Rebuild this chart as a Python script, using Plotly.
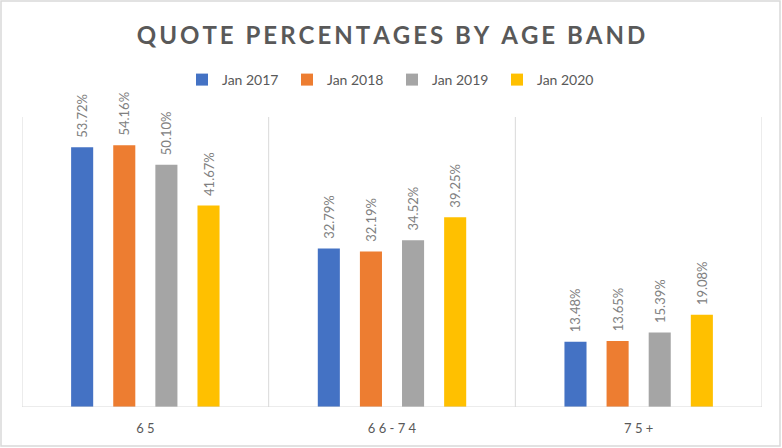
import plotly.graph_objects as go

categories = ["65", "66-74", "75+"]
series_names = ["Jan 2017", "Jan 2018", "Jan 2019", "Jan 2020"]
values = {
    "Jan 2017": [53.72, 32.79, 13.48],
    "Jan 2018": [54.16, 32.19, 13.65],
    "Jan 2019": [50.10, 34.52, 15.39],
    "Jan 2020": [41.67, 39.25, 19.08],
}
colors = ["#4472C4", "#ED7D31", "#A5A5A5", "#FFC000"]
title_text = "QUOTE PERCENTAGES BY AGE BAND"

FONT = "Lato, 'Open Sans', sans-serif"
GRAY = "#595959"
LABEL_GRAY = "#808080"
HS = "\u200a"
NB = "\u00a0"

def spaced(s, sep=HS):
    return sep.join(list(s))

fig = go.Figure()
for name, col in zip(series_names, colors):
    vals = values[name]
    fig.add_trace(go.Bar(
        x=categories, y=vals, name=name,
        marker=dict(color=col, line=dict(width=0)),
        text=[NB * 2 + f"{v:.2f}%" for v in vals],
        textposition="outside", textangle=-90,
        textfont=dict(family=FONT, size=13, color=LABEL_GRAY),
        cliponaxis=False, constraintext="none",
    ))

shapes = []
for xb in [-0.5, 0.5, 1.5, 2.5]:
    shapes.append(dict(type="line", xref="x", yref="paper", x0=xb, x1=xb, y0=0, y1=1,
                       line=dict(color="#D9D9D9", width=1), layer="below"))
shapes.append(dict(type="line", xref="paper", yref="y", x0=0, x1=1, y0=0, y1=0,
                   line=dict(color="#D9D9D9", width=1)))
# outer chart border
shapes.append(dict(type="rect", xref="paper", yref="paper",
                   x0=(1 - 22) / 740, x1=(780 - 22) / 740,
                   y0=(407 - 446) / 290, y1=(407 - 1) / 290,
                   line=dict(color="#D9D9D9", width=1.5)))

fig.update_layout(
    width=782, height=448,
    margin=dict(l=22, r=20, t=117, b=41),
    paper_bgcolor="white", plot_bgcolor="white",
    barmode="group", bargap=0.317, bargroupgap=0.476,
    title=dict(text="<b>" + spaced(title_text, HS + HS) + "</b>",
               font=dict(family=FONT, size=24, color=GRAY),
               x=0.5, xanchor="center", y=1 - 36 / 448, yanchor="middle"),
    legend=dict(orientation="h", x=0.5, xanchor="center", y=(407 - 80) / 290, yanchor="middle",
                font=dict(family=FONT, size=14, color=GRAY), itemwidth=30,
                entrywidth=60, entrywidthmode="pixels",
                traceorder="normal"),
    xaxis=dict(tickmode="array", tickvals=categories,
               ticktext=[spaced(c, " ") for c in categories],
               tickfont=dict(family=FONT, size=13, color=GRAY),
               ticklabelstandoff=12,
               showgrid=False, showline=False, ticks="", range=[-0.5, 2.5]),
    yaxis=dict(range=[0, 60], showgrid=False, showticklabels=False, zeroline=False, ticks=""),
    shapes=shapes,
    showlegend=True,
)

fig.write_html("out.html")
